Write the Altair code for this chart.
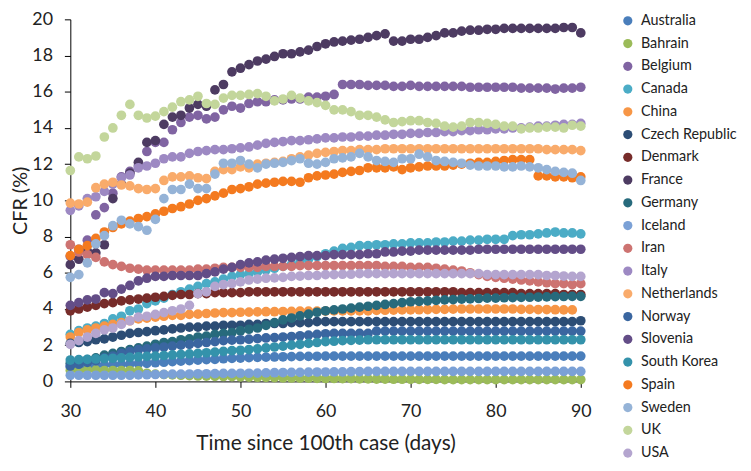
import altair as alt
import pandas as pd

days = list(range(30, 91))

countries = ["Australia", "Bahrain", "Belgium", "Canada", "China", "Czech Republic",
             "Denmark", "France", "Germany", "Iceland", "Iran", "Italy", "Netherlands",
             "Norway", "Slovenia", "South Korea", "Spain", "Sweden", "UK", "USA"]

colors = ["#4A7EBB", "#9BBB59", "#8064A2", "#4BACC6", "#F79646", "#2C4D75",
          "#772C2A", "#4D3B62", "#276A7C", "#7BA1D6", "#CD7371", "#9D89C3", "#F9AB6B",
          "#3A66A0", "#634D87", "#3492AB", "#F47A1F", "#95B3D7", "#C3D69B", "#B4A5CF"]

australia = [0.8, 0.82, 0.85, 0.87, 0.9, 0.92, 0.94, 0.96, 0.98, 1.0,
             1.03, 1.06, 1.09, 1.12, 1.15, 1.18, 1.2, 1.22, 1.25, 1.27,
             1.29, 1.31, 1.33, 1.34, 1.35, 1.36, 1.37, 1.38, 1.38, 1.39,
             1.4, 1.4, 1.4, 1.4, 1.4, 1.4, 1.4, 1.4, 1.4, 1.4,
             1.4, 1.4, 1.4, 1.4, 1.4, 1.4, 1.4, 1.4, 1.4, 1.4,
             1.4, 1.4, 1.4, 1.4, 1.4, 1.4, 1.4, 1.4, 1.4, 1.4,
             1.4]
bahrain = [0.6, 0.6, 0.62, 0.62, 0.6, 0.6, 0.6, 0.6, 0.58, 0.45,
           0.4, 0.38, 0.36, 0.34, 0.32, 0.3, 0.29, 0.28, 0.27, 0.26,
           0.25, 0.24, 0.23, 0.22, 0.21, 0.2, 0.19, 0.18, 0.18, 0.17,
           0.16, 0.16, 0.15, 0.15, 0.14, 0.14, 0.13, 0.13, 0.12, 0.12,
           0.12, 0.11, 0.11, 0.11, 0.1, 0.1, 0.1, 0.1, 0.1, 0.1,
           0.1, 0.1, 0.1, 0.1, 0.1, 0.1, 0.1, 0.1, 0.1, 0.1,
           0.1]
belgium = [6.9, 7.3, 7.8, 9.2, 9.6, 10.4, 11.3, 11.6, 11.9, 12.7,
           13.2, 13.2, 13.9, 14.3, 14.6, 14.7, 14.5, 14.6, 15.0, 15.2,
           15.1, 15.35, 15.45, 15.45, 15.55, 15.55, 15.6, 15.6, 15.7, 15.7,
           15.75, 15.85, 16.4, 16.4, 16.4, 16.35, 16.35, 16.35, 16.3, 16.3,
           16.35, 16.3, 16.3, 16.3, 16.3, 16.3, 16.3, 16.25, 16.25, 16.25,
           16.25, 16.25, 16.25, 16.2, 16.2, 16.2, 16.2, 16.15, 16.2, 16.2,
           16.25]
canada = [2.6, 2.8, 2.95, 3.05, 3.2, 3.45, 3.6, 3.9, 4.0, 4.3,
          4.45, 4.6, 4.8, 4.95, 5.1, 5.25, 5.4, 5.5, 5.65, 5.8,
          5.9, 5.95, 6.05, 6.15, 6.25, 6.35, 6.45, 6.6, 6.75, 6.9,
          7.05, 7.2, 7.35, 7.4, 7.5, 7.5, 7.55, 7.55, 7.6, 7.6,
          7.65, 7.65, 7.65, 7.7, 7.7, 7.75, 7.75, 7.8, 7.8, 7.85,
          7.85, 7.85, 8.05, 8.1, 8.1, 8.15, 8.2, 8.25, 8.2, 8.2,
          8.15]
china = [2.45, 2.7, 2.85, 2.95, 3.05, 3.15, 3.25, 3.35, 3.45, 3.5,
         3.55, 3.6, 3.65, 3.65, 3.7, 3.72, 3.75, 3.78, 3.8, 3.8,
         3.82, 3.83, 3.84, 3.85, 3.85, 3.86, 3.87, 3.88, 3.88, 3.88,
         3.88, 3.9, 3.9, 3.9, 3.9, 3.9, 3.92, 3.93, 3.94, 3.95,
         3.95, 3.96, 3.97, 3.98, 3.98, 3.99, 4.0, 4.0, 4.0, 4.0,
         4.0, 4.0, 4.0, 3.98, 3.98, 3.97, 3.97, 3.96, 3.95, 3.95,
         None]
czech = [2.1, 2.15, 2.2, 2.3, 2.35, 2.45, 2.55, 2.65, 2.7, 2.75,
         2.8, 2.85, 2.9, 2.95, 3.0, 3.0, 3.05, 3.05, 3.1, 3.1,
         3.1, 3.15, 3.15, 3.2, 3.2, 3.2, 3.25, 3.25, 3.25, 3.3,
         3.3, 3.3, 3.3, 3.3, 3.3, 3.3, 3.3, 3.3, 3.3, 3.3,
         3.3, 3.3, 3.3, 3.3, 3.3, 3.3, 3.3, 3.3, 3.3, 3.3,
         3.3, 3.3, 3.3, 3.3, 3.3, 3.3, 3.3, 3.3, 3.3, 3.3,
         3.35]
denmark = [3.9, 4.0, 4.1, 4.2, 4.3, 4.35, 4.45, 4.5, 4.55, 4.6,
           4.65, 4.7, 4.75, 4.8, 4.8, 4.85, 4.85, 4.9, 4.9, 4.9,
           4.9, 4.95, 4.95, 4.95, 4.95, 4.95, 4.95, 4.95, 4.95, 4.95,
           4.95, 4.95, 4.95, 4.95, 4.95, 4.95, 4.95, 4.95, 4.95, 4.95,
           4.95, 4.95, 4.95, 4.95, 4.95, 4.95, 4.9, 4.9, 4.9, 4.9,
           4.9, 4.9, 4.9, 4.85, 4.85, 4.85, 4.85, 4.85, 4.8, 4.8,
           4.8]
france = [6.45, 6.75, 7.2, 7.1, 7.55, 10.1, 10.9, 11.5, 12.1, 13.2,
          13.3, 14.2, 14.6, 14.7, 15.1, 15.3, 15.2, 16.1, 16.4, 17.1,
          17.3, 17.5, 17.7, 17.8, 17.95, 18.1, 18.1, 18.2, 18.3, 18.5,
          18.65, 18.75, 18.8, 18.85, 18.9, 19.0, 19.1, 19.2, 18.8, 18.8,
          18.9, 18.9, 19.0, 19.1, 19.25, 19.25, 19.35, 19.4, 19.4, 19.45,
          19.45, 19.5, 19.5, 19.5, 19.5, 19.5, 19.5, 19.5, 19.55, 19.55,
          19.25]
germany = [1.0, 1.1, 1.2, 1.3, 1.45, 1.55, 1.65, 1.75, 1.85, 1.95,
           2.05, 2.15, 2.2, 2.3, 2.35, 2.45, 2.5, 2.6, 2.65, 2.7,
           2.8, 2.88, 2.95, 3.1, 3.25, 3.4, 3.5, 3.62, 3.72, 3.82,
           3.9, 3.95, 4.0, 4.05, 4.1, 4.15, 4.2, 4.25, 4.3, 4.35,
           4.4, 4.42, 4.45, 4.48, 4.5, 4.52, 4.55, 4.56, 4.58, 4.6,
           4.6, 4.62, 4.63, 4.64, 4.65, 4.66, 4.67, 4.68, 4.69, 4.7,
           4.7]
iceland = [0.34, 0.34, 0.34, 0.34, 0.34, 0.34, 0.34, 0.34, 0.36, 0.37,
           0.38, 0.39, 0.4, 0.4, 0.41, 0.42, 0.42, 0.43, 0.44, 0.44,
           0.45, 0.45, 0.46, 0.47, 0.48, 0.49, 0.5, 0.5, 0.51, 0.52,
           0.52, 0.53, 0.53, 0.54, 0.54, 0.55, 0.55, 0.55, 0.55, 0.55,
           0.55, 0.55, 0.55, 0.55, 0.55, 0.55, 0.55, 0.55, 0.55, 0.55,
           0.55, 0.55, 0.55, 0.55, 0.55, 0.55, 0.55, 0.55, 0.55, 0.55,
           0.55]
iran = [7.55, 7.15, 7.0, 6.85, 6.6, 6.45, 6.35, 6.25, 6.2, 6.15,
        6.15, 6.15, 6.15, 6.15, 6.15, 6.2, 6.2, 6.25, 6.3, 6.3,
        6.3, 6.3, 6.3, 6.35, 6.35, 6.35, 6.35, 6.4, 6.4, 6.4,
        6.4, 6.4, 6.4, 6.4, 6.4, 6.4, 6.4, 6.35, 6.35, 6.35,
        6.3, 6.3, 6.3, 6.25, 6.2, 6.15, 6.1, 6.0, 5.9, 5.8,
        5.75, 5.7, 5.65, 5.6, 5.55, 5.5, 5.45, 5.4, 5.4, 5.35,
        5.4]
italy = [9.45, 9.7, 10.1, 10.2, 10.5, 10.9, 11.25, 11.4, 11.8, 11.9,
         12.05, 12.3, 12.4, 12.4, 12.6, 12.7, 12.75, 12.8, 12.8, 12.85,
         12.9, 12.95, 13.05, 13.15, 13.2, 13.25, 13.3, 13.3, 13.35, 13.4,
         13.45, 13.45, 13.5, 13.5, 13.55, 13.55, 13.6, 13.6, 13.65, 13.65,
         13.7, 13.7, 13.75, 13.75, 13.8, 13.8, 13.85, 13.85, 13.9, 13.9,
         13.95, 13.95, 14.0, 14.0, 14.05, 14.1, 14.1, 14.15, 14.2, 14.2,
         14.25]
netherlands = [9.85, 9.8, 9.9, 10.7, 10.9, 11.0, 10.85, 10.8, 10.65, 10.6,
               10.65, 11.1, 11.3, 11.3, 11.35, 11.25, 11.2, 11.6, 11.7, 11.7,
               11.85, 11.8, 12.0, 12.05, 12.1, 12.15, 12.3, 12.4, 12.5, 12.6,
               12.65, 12.7, 12.75, 12.75, 12.8, 12.8, 12.8, 12.85, 12.85, 12.85,
               12.85, 12.85, 12.85, 12.85, 12.85, 12.85, 12.85, 12.85, 12.85, 12.85,
               12.85, 12.85, 12.85, 12.85, 12.85, 12.85, 12.8, 12.8, 12.8, 12.8,
               12.75]
norway = [0.85, 0.95, 1.05, 1.15, 1.3, 1.4, 1.55, 1.65, 1.75, 1.8,
          1.85, 1.9, 1.95, 2.0, 2.05, 2.1, 2.15, 2.2, 2.25, 2.28,
          2.3, 2.33, 2.36, 2.4, 2.42, 2.45, 2.48, 2.52, 2.56, 2.6,
          2.63, 2.65, 2.65, 2.65, 2.65, 2.65, 2.78, 2.78, 2.78, 2.78,
          2.78, 2.78, 2.78, 2.78, 2.78, 2.78, 2.78, 2.78, 2.78, 2.78,
          2.78, 2.78, 2.78, 2.78, 2.78, 2.78, 2.78, 2.78, 2.78, 2.78,
          2.78]
slovenia = [4.2, 4.35, 4.5, 4.55, 4.9, 4.85, 5.1, 5.3, 5.55, 5.7,
            5.8, 5.8, 5.85, 5.85, 5.85, 5.85, 5.95, 6.05, 6.2, 6.3,
            6.45, 6.55, 6.6, 6.7, 6.75, 6.8, 6.85, 6.9, 6.95, 6.95,
            6.95, 7.0, 7.0, 7.0, 7.0, 7.05, 7.05, 7.15, 7.15, 7.2,
            7.2, 7.25, 7.25, 7.25, 7.25, 7.25, 7.25, 7.25, 7.3, 7.3,
            7.3, 7.3, 7.3, 7.3, 7.3, 7.3, 7.3, 7.3, 7.3, 7.3,
            7.3]
south_korea = [1.18, 1.2, 1.22, 1.24, 1.26, 1.28, 1.3, 1.33, 1.36, 1.38,
               1.4, 1.43, 1.46, 1.49, 1.52, 1.55, 1.58, 1.62, 1.66, 1.7,
               1.72, 1.76, 1.8, 1.85, 1.9, 1.95, 2.0, 2.05, 2.1, 2.15,
               2.2, 2.22, 2.25, 2.27, 2.28, 2.3, 2.3, 2.3, 2.3, 2.3,
               2.3, 2.3, 2.3, 2.3, 2.3, 2.3, 2.3, 2.3, 2.3, 2.3,
               2.3, 2.3, 2.3, 2.3, 2.3, 2.3, 2.3, 2.3, 2.3, 2.3,
               2.3]
spain = [6.95, 7.3, 7.5, 7.9, 8.25, 8.5, 8.7, 8.85, 9.0, 9.1,
         9.25, 9.4, 9.55, 9.65, 9.8, 10.0, 10.1, 10.25, 10.4, 10.6,
         10.65, 10.75, 10.9, 10.95, 11.0, 11.05, 11.05, 11.0, 11.25, 11.35,
         11.4, 11.45, 11.55, 11.6, 11.65, 11.8, 11.8, 11.8, 11.85, 11.7,
         11.8, 11.85, 11.9, 11.9, 11.9, 11.95, 12.0, 12.05, 12.1, 12.1,
         12.15, 12.2, 12.25, 12.25, 12.25, 11.35, 11.35, 11.3, 11.3, 11.25,
         11.3]
sweden = [5.75, 5.9, 6.55, 7.6, 8.05, 8.6, 8.9, 8.7, 8.55, 8.35,
          8.95, 10.1, 10.6, 10.6, 10.9, 10.65, 10.65, 11.45, 12.05, 12.05,
          12.2, 12.0, 11.8, 12.0, 12.05, 12.1, 12.2, 12.3, 12.05, 12.0,
          12.1, 12.3, 12.35, 12.4, 12.6, 12.4, 12.2, 12.15, 12.1, 12.3,
          12.3, 12.55, 12.4, 12.2, 12.15, 12.1, 12.05, 11.95, 11.9, 11.9,
          11.9, 11.85, 11.85, 11.9, 11.85, 11.8, 11.7, 11.6, 11.55, 11.5,
          11.1]
uk = [11.65, 12.4, 12.3, 12.45, 13.5, 14.0, 14.7, 15.3, 14.7, 14.55,
      14.65, 14.9, 15.15, 15.45, 15.55, 15.75, 15.35, 15.3, 15.65, 15.8,
      15.8, 15.85, 15.9, 15.75, 15.5, 15.6, 15.8, 15.65, 15.5, 15.4,
      15.25, 15.0, 15.0, 14.9, 14.7, 14.7, 14.6, 14.45, 14.3, 14.35,
      14.4, 14.4, 14.3, 14.25, 14.1, 14.05, 14.1, 14.3, 14.3, 14.25,
      14.2, 14.1, 14.1, 13.95, 14.0, 14.0, 14.05, 14.05, 14.0, 14.15,
      14.1]
usa = [2.05, 2.25, 2.45, 2.65, 2.85, 2.95, 3.15, 3.35, 3.55, 3.6,
       3.7, 3.8, 3.9, 4.0, 4.2, 4.85, 4.95, 5.25, 5.35, 5.4,
       5.5, 5.6, 5.65, 5.7, 5.72, 5.75, 5.8, 5.82, 5.85, 5.85,
       5.9, 5.9, 5.92, 5.92, 5.95, 5.95, 5.95, 5.95, 5.95, 5.95,
       5.95, 5.95, 5.95, 5.95, 5.95, 5.95, 5.95, 5.95, 5.95, 5.9,
       5.9, 5.9, 5.9, 5.9, 5.9, 5.9, 5.85, 5.85, 5.82, 5.8,
       5.8]

series = [australia, bahrain, belgium, canada, china, czech, denmark, france,
          germany, iceland, iran, italy, netherlands, norway, slovenia,
          south_korea, spain, sweden, uk, usa]

rows = []
k = 0
for name, vals in zip(countries, series):
    assert len(vals) == len(days), name
    for d, v in zip(days, vals):
        if v is not None:
            rows.append({"day": d, "cfr": v, "country": name, "k": k})
            k += 1
df = pd.DataFrame(rows)

FONT = "Lato"
TXT = "#222222"
PLOT_H = 366

chart = alt.Chart(df).mark_circle(size=96, opacity=1).encode(
    x=alt.X("day:Q",
            scale=alt.Scale(domain=[30, 90], nice=False, zero=False),
            axis=alt.Axis(values=[30, 40, 50, 60, 70, 80, 90],
                          title="Time since 100th case (days)",
                          titleX=258, titleY=69, titleAlign="center",
                          titleBaseline="alphabetic", labelFlush=False,
                          labelBaseline="alphabetic", labelPadding=29)),
    y=alt.Y("cfr:Q",
            scale=alt.Scale(domain=[0, 20], nice=False),
            axis=alt.Axis(values=[0, 2, 4, 6, 8, 10, 12, 14, 16, 18, 20],
                          title="CFR (%)", titleAngle=270, titleX=-50,
                          titleY=PLOT_H / 2, titleAlign="center",
                          titleFontSize=20, labelFlush=False,
                          titleBaseline="middle", labelPadding=12)),
    color=alt.Color("country:N",
                    scale=alt.Scale(domain=countries, range=colors),
                    legend=alt.Legend(orient="none", legendX=556.3, legendY=-9.9,
                                      title=None, symbolType="circle",
                                      symbolSize=86, symbolStrokeWidth=0,
                                      symbolOpacity=1, labelFont=FONT,
                                      labelFontSize=14.5, labelColor=TXT,
                                      clipHeight=22.8, rowPadding=0,
                                      labelOffset=6, padding=0)),
    order=alt.Order("k:Q"),
).properties(
    width=516, height=PLOT_H,
    autosize=alt.AutoSizeParams(type="none"),
    padding={"left": 63, "top": 9, "right": 164, "bottom": 78},
).configure_view(
    stroke=None
).configure_axis(
    grid=False, domainColor="#000000", domainWidth=1, tickColor="#000000",
    tickSize=6, labelFont=FONT, labelFontSize=18, labelColor=TXT,
    titleFont=FONT, titleFontSize=21, titleFontWeight="normal", titleColor=TXT,
)

chart.save("out.html", embed_options={"renderer": "svg", "actions": False})
